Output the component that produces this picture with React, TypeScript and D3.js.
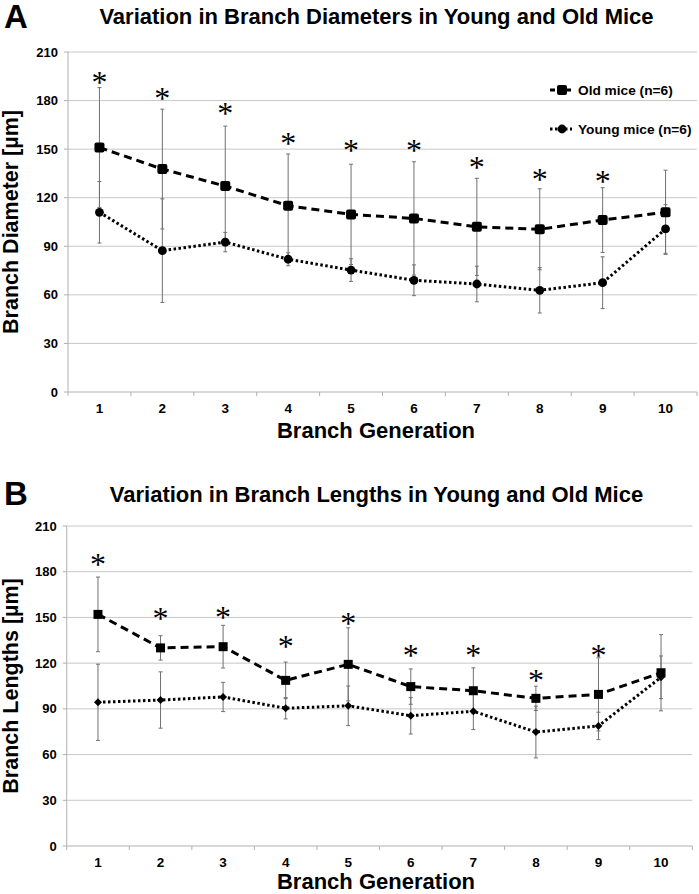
import React from "react";
import * as d3 from "d3";

const generations = [1, 2, 3, 4, 5, 6, 7, 8, 9, 10];
const yTicks = [0, 30, 60, 90, 120, 150, 180, 210];

// Panel A: branch diameters
const oldDiam = [151, 137.7, 127.2, 115, 109.7, 107.2, 102, 100.5, 106.2, 111];
const oldDiamErr = [37, 37, 37, 32, 31, 35, 30, 25, 20, 26];
const youngDiam = [111, 87.3, 92.6, 82, 75.3, 69, 66.7, 62.8, 67.5, 100.7];
const youngDiamErr = [19, 32, 6, 4, 7, 9.5, 11, 14, 16, 15];
const starsDiam = [194.7, 184.7, 175.4, 156.9, 152.5, 152.5, 141.9, 134.6, 133.6, null];

// Panel B: branch lengths
const oldLen = [152, 130, 130.8, 108.7, 119.2, 104.6, 101.9, 96.9, 99.5, 113.7];
const oldLenErr = [24.5, 8, 14, 12, 24, 11.6, 15, 8, 24, 25];
const youngLen = [94.3, 95.8, 97.8, 90.4, 92, 85.5, 88.4, 74.8, 78.8, 110.7];
const youngLenErr = [25, 18.5, 9.6, 7, 13, 12, 12, 17, 9, 14];
const starsLen = [188.1, 152.7, 153.8, 134.5, 149.8, 128.6, 128.6, 112.2, 128.6, null];

const legendLabels = ["Old mice (n=6)", "Young mice (n=6)"];

const FONT = "'Liberation Sans', Arial, sans-serif";

type PanelProps = {
  letter: string;
  title: string;
  yLabel: string;
  xRange: [number, number];
  yRange: [number, number];
  titleY: number;
  oldV: number[];
  oldE: number[];
  youngV: number[];
  youngE: number[];
  stars: (number | null)[];
  youngMarker: "circle" | "diamond";
  sq: number;
  legend: boolean;
  letterY: number;
  xTitleY: number;
};

function Panel(p: PanelProps) {
  const x = d3.scaleLinear().domain([0.5, 10.5]).range(p.xRange);
  const y = d3.scaleLinear().domain([0, 210]).range(p.yRange);
  const line = d3
    .line<number>()
    .x((_, i) => x(generations[i]))
    .y((d) => y(d));
  const [x0, x1] = p.xRange;
  const yMid = (p.yRange[0] + p.yRange[1]) / 2;
  const boundaries = d3.range(0.5, 11, 1);
  const cap = 2;
  const errBars = (vals: number[], errs: number[]) =>
    vals.map((v, i) => {
      const cx = x(generations[i]);
      const top = y(v + errs[i]);
      const bot = y(v - errs[i]);
      return (
        <g key={i} stroke="#707070" strokeWidth={1}>
          <line x1={cx} x2={cx} y1={top} y2={bot} />
          <line x1={cx - cap} x2={cx + cap} y1={top} y2={top} />
          <line x1={cx - cap} x2={cx + cap} y1={bot} y2={bot} />
        </g>
      );
    });
  const starSize = 32;
  return (
    <g>
      <text x={4} y={p.letterY} fontFamily={FONT} fontWeight="bold" fontSize={33}>
        {p.letter}
      </text>
      <text x={376.5} y={p.titleY} textAnchor="middle" fontFamily={FONT} fontWeight="bold" fontSize={22}>
        {p.title}
      </text>
      {yTicks.slice(1).map((t) => (
        <line key={t} x1={x0} x2={x1} y1={y(t)} y2={y(t)} stroke="#c8c8c8" strokeWidth={1} />
      ))}
      <line x1={x0} x2={x0} y1={y(0)} y2={y(210)} stroke="#b0b0b0" />
      <line x1={x0} x2={x1} y1={y(0)} y2={y(0)} stroke="#b0b0b0" />
      {yTicks.map((t) => (
        <line key={"yt" + t} x1={x0 - 4} x2={x0} y1={y(t)} y2={y(t)} stroke="#b0b0b0" />
      ))}
      {boundaries.map((b) => (
        <line key={"xt" + b} x1={x(b)} x2={x(b)} y1={y(0)} y2={y(0) + 4} stroke="#b0b0b0" />
      ))}
      {yTicks.map((t) => (
        <text key={"yl" + t} x={x0 - 10} y={y(t) + 4.5} textAnchor="end" fontFamily={FONT} fontWeight="bold" fontSize={13}>
          {t}
        </text>
      ))}
      {generations.map((g) => (
        <text key={"xl" + g} x={x(g)} y={y(0) + 21} textAnchor="middle" fontFamily={FONT} fontWeight="bold" fontSize={13.5}>
          {g}
        </text>
      ))}
      <text x={376} y={p.xTitleY} textAnchor="middle" fontFamily={FONT} fontWeight="bold" fontSize={22}>
        Branch Generation
      </text>
      <text
        transform={`translate(18,${yMid}) rotate(-90)`}
        textAnchor="middle"
        fontFamily={FONT}
        fontWeight="bold"
        fontSize={21.5}
      >
        {p.yLabel}
      </text>
      {errBars(p.youngV, p.youngE)}
      {errBars(p.oldV, p.oldE)}
      <path d={line(p.youngV) || ""} fill="none" stroke="#000" strokeWidth={3} strokeDasharray="2.5,2.5" />
      <path d={line(p.oldV) || ""} fill="none" stroke="#000" strokeWidth={3} strokeDasharray="8,5" />
      {p.youngV.map((v, i) =>
        p.youngMarker === "circle" ? (
          <circle key={"ym" + i} cx={x(generations[i])} cy={y(v)} r={4.4} fill="#000" />
        ) : (
          <rect
            key={"ym" + i}
            x={-2.8}
            y={-2.8}
            width={5.6}
            height={5.6}
            fill="#000"
            transform={`translate(${x(generations[i])},${y(v)}) rotate(45)`}
          />
        )
      )}
      {p.oldV.map((v, i) => (
        <rect
          key={"om" + i}
          x={x(generations[i]) - p.sq / 2}
          y={y(v) - p.sq / 2}
          width={p.sq}
          height={p.sq}
          rx={p.letter === "A" ? 2 : 0}
          fill="#000"
        />
      ))}
      {p.stars.map((s, i) =>
        s == null ? null : (
          <text
            key={"st" + i}
            x={x(generations[i])}
            y={y(s) + starSize * 0.5}
            textAnchor="middle"
            fontFamily="'Liberation Serif', 'Times New Roman', serif"
            fontSize={starSize}
          >
            *
          </text>
        )
      )}
      {p.legend && (
        <g fontFamily={FONT} fontWeight="bold" fontSize={13.7}>
          <line x1={550} x2={574} y1={90} y2={90} stroke="#000" strokeWidth={3} strokeDasharray="5,3" />
          <rect x={557} y={85} width={10} height={10} rx={2} fill="#000" />
          <text x={578} y={95}>{legendLabels[0]}</text>
          <line x1={550} x2={572} y1={129} y2={129} stroke="#000" strokeWidth={3} strokeDasharray="2.5,2.5" />
          <circle cx={562} cy={129} r={4.4} fill="#000" />
          <text x={578} y={134}>{legendLabels[1]}</text>
        </g>
      )}
    </g>
  );
}

export default function App() {
  return (
    <svg
      width={699}
      height={894}
      style={{ position: "absolute", left: 0, top: 0, background: "#fff" }}
    >
      <rect width={699} height={894} fill="#fff" />
      <Panel
        letter="A"
        title="Variation in Branch Diameters in Young and Old Mice"
        yLabel="Branch Diameter [µm]"
        xRange={[68, 697]}
        yRange={[392, 52]}
        titleY={24}
        letterY={28}
        xTitleY={438}
        oldV={oldDiam}
        oldE={oldDiamErr}
        youngV={youngDiam}
        youngE={youngDiamErr}
        stars={starsDiam}
        youngMarker="circle"
        sq={10}
        legend={true}
      />
      <Panel
        letter="B"
        title="Variation in Branch Lengths in Young and Old Mice"
        yLabel="Branch Lengths [µm]"
        xRange={[66.7, 692.3]}
        yRange={[846, 526]}
        titleY={502}
        letterY={505}
        xTitleY={889}
        oldV={oldLen}
        oldE={oldLenErr}
        youngV={youngLen}
        youngE={youngLenErr}
        stars={starsLen}
        youngMarker="diamond"
        sq={9}
        legend={false}
      />
    </svg>
  );
}
